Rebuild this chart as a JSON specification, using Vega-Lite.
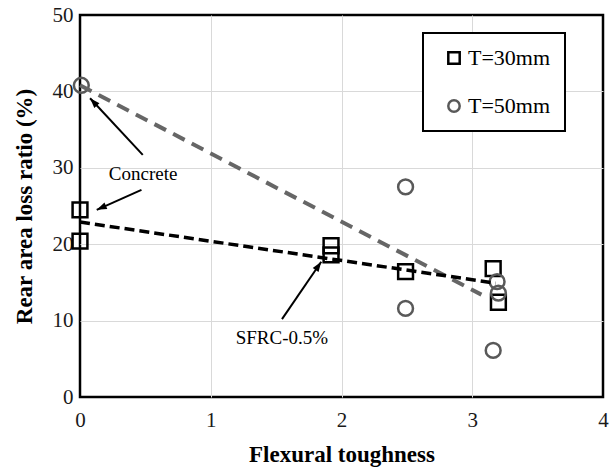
{
  "$schema": "https://vega.github.io/schema/vega-lite/v6.json",
  "width": 523,
  "height": 382,
  "autosize": {"type": "none"},
  "padding": {"left": 80, "top": 15, "right": 8, "bottom": 74},
  "background": "white",
  "config": {
    "view": {"stroke": "black", "strokeWidth": 2.5},
    "font": "Liberation Serif, Times New Roman, serif",
    "axis": {
      "grid": true,
      "gridColor": "#d9d9d9",
      "gridWidth": 1,
      "domain": false,
      "ticks": false,
      "labelFlush": false,
      "labelFont": "Liberation Serif, Times New Roman, serif",
      "labelFontSize": 21,
      "labelColor": "#1a1a1a",
      "titleFont": "Liberation Serif, Times New Roman, serif",
      "titleFontSize": 23,
      "titleFontWeight": "bold",
      "titleColor": "black"
    },
    "legend": {
      "fillColor": "white",
      "strokeColor": "black",
      "strokeWidth": 2,
      "padding": 14,
      "rowPadding": 26,
      "labelFont": "Liberation Serif, Times New Roman, serif",
      "labelFontSize": 22,
      "labelColor": "black",
      "symbolSize": 130,
      "symbolStrokeWidth": 2.5,
      "labelOffset": 3,
      "symbolOffset": 6
    }
  },
  "datasets": {
    "measured": [
      {"series": "T=30mm", "toughness": 0.0, "loss": 24.5},
      {"series": "T=30mm", "toughness": 0.0, "loss": 20.4},
      {"series": "T=30mm", "toughness": 1.92, "loss": 19.8},
      {"series": "T=30mm", "toughness": 1.92, "loss": 18.6},
      {"series": "T=30mm", "toughness": 2.49, "loss": 16.4},
      {"series": "T=30mm", "toughness": 3.16, "loss": 16.8},
      {"series": "T=30mm", "toughness": 3.2, "loss": 12.4},
      {"series": "T=50mm", "toughness": 0.01, "loss": 40.8},
      {"series": "T=50mm", "toughness": 2.49, "loss": 27.5},
      {"series": "T=50mm", "toughness": 2.49, "loss": 11.6},
      {"series": "T=50mm", "toughness": 3.16, "loss": 6.1},
      {"series": "T=50mm", "toughness": 3.19, "loss": 15.1},
      {"series": "T=50mm", "toughness": 3.2, "loss": 13.6}
    ],
    "trend": [
      {"series": "T=30mm", "toughness": 0.0, "loss": 22.9},
      {"series": "T=30mm", "toughness": 3.18, "loss": 14.9},
      {"series": "T=50mm", "toughness": 0.0, "loss": 40.8},
      {"series": "T=50mm", "toughness": 3.07, "loss": 13.4}
    ],
    "notes": [
      {"label": "Concrete", "toughness": 0.483, "loss": 29.2},
      {"label": "SFRC-0.5%", "toughness": 1.544, "loss": 7.7}
    ],
    "arrows": [
      {"arrow": "concrete-top", "fromX": 0.48, "fromY": 31.7, "toX": 0.077, "toY": 39.1},
      {"arrow": "concrete-side", "fromX": 0.47, "fromY": 27.1, "toX": 0.128, "toY": 24.5},
      {"arrow": "sfrc", "fromX": 1.545, "fromY": 10.2, "toX": 1.845, "toY": 17.7}
    ]
  },
  "layer": [
    {
      "data": {"name": "measured"},
      "mark": {"type": "point", "filled": false, "strokeWidth": 2.5, "opacity": 1, "size": 220},
      "encoding": {
        "x": {
          "field": "toughness",
          "type": "quantitative",
          "scale": {"domain": [0, 4], "nice": false, "padding": 0},
          "axis": {
            "values": [0, 1, 2, 3, 4],
            "format": "d",
            "title": "Flexural toughness",
            "labelPadding": 12,
            "titlePadding": 13,
            "gridColor": {"condition": {"test": "datum.value == 0 || datum.value == 4", "value": "transparent"}, "value": "#d9d9d9"}
          }
        },
        "y": {
          "field": "loss",
          "type": "quantitative",
          "scale": {"domain": [0, 50], "nice": false, "padding": 0},
          "axis": {
            "values": [0, 10, 20, 30, 40, 50],
            "format": "d",
            "title": "Rear area loss ratio (%)",
            "labelPadding": 7,
            "titlePadding": 16,
            "gridColor": {"condition": {"test": "datum.value == 0 || datum.value == 50", "value": "transparent"}, "value": "#d9d9d9"}
          }
        },
        "shape": {
          "field": "series",
          "type": "nominal",
          "scale": {"domain": ["T=30mm", "T=50mm"], "range": ["square", "circle"]},
          "legend": {"title": null, "orient": "none", "legendX": 343, "legendY": 18}
        },
        "color": {
          "field": "series",
          "type": "nominal",
          "scale": {"domain": ["T=30mm", "T=50mm"], "range": ["#000000", "#595959"]},
          "legend": {"title": null, "orient": "none", "legendX": 343, "legendY": 18}
        }
      }
    },
    {
      "data": {"name": "trend"},
      "transform": [{"filter": "datum.series == 'T=50mm'"}],
      "mark": {"type": "line", "stroke": "#666666", "strokeWidth": 4, "strokeDash": [13, 8]},
      "encoding": {
        "x": {"field": "toughness", "type": "quantitative"},
        "y": {"field": "loss", "type": "quantitative"}
      }
    },
    {
      "data": {"name": "trend"},
      "transform": [{"filter": "datum.series == 'T=30mm'"}],
      "mark": {"type": "line", "stroke": "#000000", "strokeWidth": 3.5, "strokeDash": [10, 5]},
      "encoding": {
        "x": {"field": "toughness", "type": "quantitative"},
        "y": {"field": "loss", "type": "quantitative"}
      }
    },
    {
      "data": {"name": "arrows"},
      "mark": {"type": "rule", "stroke": "black", "strokeWidth": 2},
      "encoding": {
        "x": {"field": "fromX", "type": "quantitative"},
        "y": {"field": "fromY", "type": "quantitative"},
        "x2": {"field": "toX"},
        "y2": {"field": "toY"}
      }
    },
    {
      "data": {"name": "arrows"},
      "transform": [{"filter": "datum.arrow == 'concrete-top'"}],
      "mark": {"type": "point", "shape": "M0,0L0.7,2L-0.7,2Z", "filled": true, "color": "black", "opacity": 1, "size": 100, "angle": 317},
      "encoding": {
        "x": {"field": "toX", "type": "quantitative"},
        "y": {"field": "toY", "type": "quantitative"}
      }
    },
    {
      "data": {"name": "arrows"},
      "transform": [{"filter": "datum.arrow == 'concrete-side'"}],
      "mark": {"type": "point", "shape": "M0,0L0.7,2L-0.7,2Z", "filled": true, "color": "black", "opacity": 1, "size": 100, "angle": 246},
      "encoding": {
        "x": {"field": "toX", "type": "quantitative"},
        "y": {"field": "toY", "type": "quantitative"}
      }
    },
    {
      "data": {"name": "arrows"},
      "transform": [{"filter": "datum.arrow == 'sfrc'"}],
      "mark": {"type": "point", "shape": "M0,0L0.7,2L-0.7,2Z", "filled": true, "color": "black", "opacity": 1, "size": 100, "angle": 34},
      "encoding": {
        "x": {"field": "toX", "type": "quantitative"},
        "y": {"field": "toY", "type": "quantitative"}
      }
    },
    {
      "data": {"name": "notes"},
      "mark": {"type": "text", "font": "Liberation Serif, Times New Roman, serif", "fontSize": 19, "color": "black", "align": "center", "baseline": "middle"},
      "encoding": {
        "x": {"field": "toughness", "type": "quantitative"},
        "y": {"field": "loss", "type": "quantitative"},
        "text": {"field": "label"}
      }
    }
  ]
}
